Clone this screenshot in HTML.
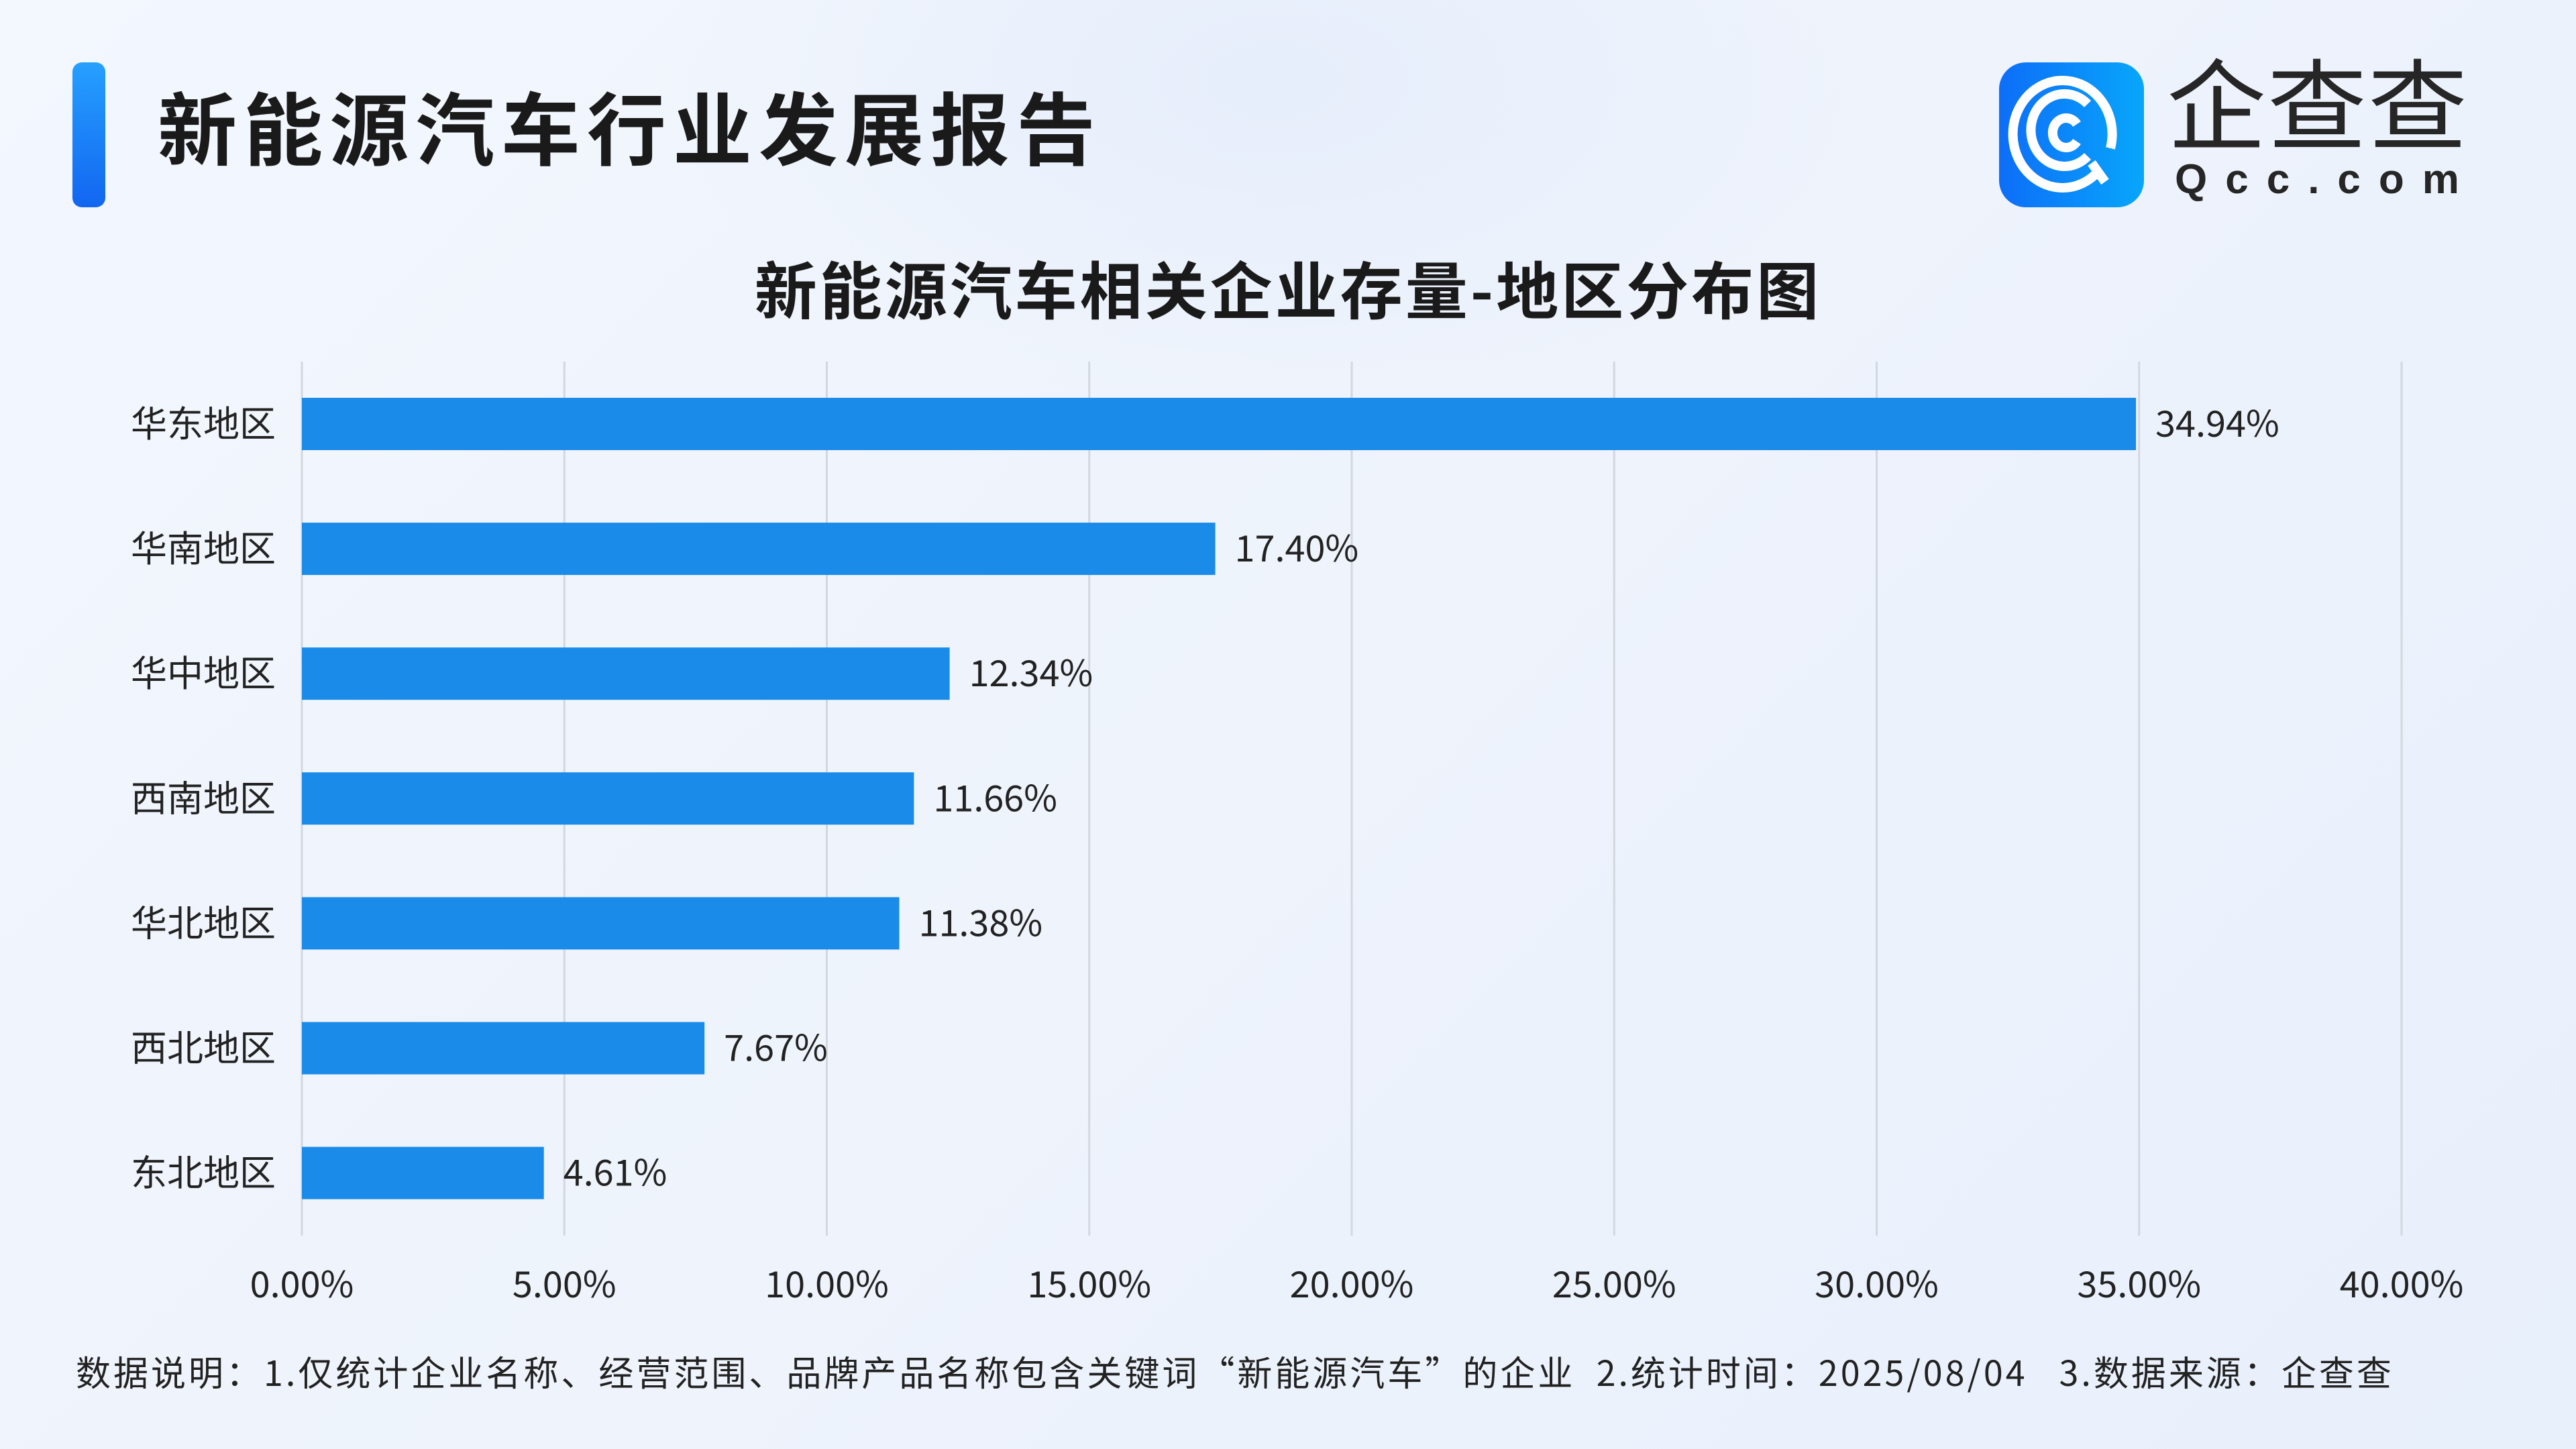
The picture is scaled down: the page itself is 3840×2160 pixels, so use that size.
<!DOCTYPE html>
<html><head><meta charset="utf-8">
<style>
html,body{margin:0;padding:0}
body{width:3840px;height:2160px;overflow:hidden;position:relative;font-family:"Noto Sans CJK SC","Liberation Sans",sans-serif;
background:radial-gradient(ellipse 900px 500px at 1900px 120px,#e6eefb 0%,rgba(230,238,251,0) 100%),linear-gradient(135deg,#f3f7fe 0%,#eef3fc 50%,#e8f0fc 100%);}
.abs{position:absolute}
</style></head><body>
<div class="abs" style="left:108px;top:93px;width:49px;height:216px;border-radius:14px;background:linear-gradient(180deg,#26a0ff,#1266f0)"></div>
<div class="abs" style="left:235px;top:106px;font-size:118px;font-weight:bold;color:#1a1a1a;letter-spacing:10px;line-height:160px">新能源汽车行业发展报告</div>
<div class="abs" style="left:2980px;top:93px;width:216px;height:216px">
<svg width="216" height="216" viewBox="0 0 216 216"><defs><linearGradient id="lg" x1="0" x2="1"><stop offset="0" stop-color="#0d6ef8"/><stop offset="1" stop-color="#08a6fb"/></linearGradient></defs>
<rect width="216" height="216" rx="40" fill="url(#lg)"/>
<g fill="none" stroke="#fff" stroke-width="14" stroke-linecap="butt">
<path d="M150 160 A74 80 0 1 1 166 128"/>
<path d="M132 62 A50 54 0 1 0 132 140"/>
<path d="M116 92 A20 22 0 1 0 116 118"/>
<path d="M138 150 L158 178"/></g></svg></div>
<div class="abs" style="left:3230px;top:72px;font-size:148px;color:#262626;line-height:180px;letter-spacing:2px;font-family:'Liberation Sans','Noto Sans CJK SC',sans-serif">企查查</div>
<div class="abs" style="left:3242px;top:232px;font-size:62px;color:#262626;letter-spacing:27px;font-weight:bold;font-family:'Liberation Sans',sans-serif">Qcc.com</div>
<div class="abs" style="left:0;width:3840px;top:358px;text-align:center;font-size:93px;font-weight:bold;color:#1a1a1a;line-height:140px;letter-spacing:4px">新能源汽车相关企业存量-地区分布图</div>
<svg class="abs" style="left:0;top:0" width="3840" height="2160" id="chart" font-family="Noto Sans CJK SC, Liberation Sans, sans-serif"></svg>
<div class="abs" style="left:113px;top:2004px;font-size:52px;color:#222;line-height:80px;white-space:nowrap;letter-spacing:4px">数据说明：1.仅统计企业名称、经营范围、品牌产品名称包含关键词“新能源汽车”的企业&nbsp;&nbsp;2.统计时间：2025/08/04&nbsp;&nbsp;&nbsp;3.数据来源：企查查</div>
<script>
const categories=["华东地区","华南地区","华中地区","西南地区","华北地区","西北地区","东北地区"];
const values=[34.94,17.40,12.34,11.66,11.38,7.67,4.61];
const ticks=[0,5,10,15,20,25,30,35,40];
const svg=document.getElementById('chart');
const NS='http://www.w3.org/2000/svg';
const x0=450,x1=3580,xmax=40,yTop=539,yBot=1842,firstC=632,step=186.1,bh=78;
function xs(v){return x0+(v/xmax)*(x1-x0);}
function yc(i){return firstC+i*step;}
function mk(t,a){const e=document.createElementNS(NS,t);for(const k in a)e.setAttribute(k,a[k]);svg.appendChild(e);return e;}
ticks.forEach((t,i)=>{
 const l=mk('line',{x1:xs(t),x2:xs(t),y1:yTop,y2:yBot,stroke:'#d3d7de','stroke-width':3});
 
 
 const tx=mk('text',{x:xs(t),y:1934,'text-anchor':'middle','font-size':54,fill:'#222'});
 tx.textContent=t.toFixed(2)+'%';
 
 
});
categories.forEach((c,i)=>{
 const r=mk('rect',{x:x0,y:yc(i)-bh/2,width:xs(values[i])-x0,height:bh,fill:'#1a8be9'});
 
 
 const lb=mk('text',{x:411,y:yc(i)+19,'text-anchor':'end','font-size':54,fill:'#222'});
 lb.textContent=c;
 
 
 const vl=mk('text',{x:xs(values[i])+29,y:yc(i)+19,'font-size':54,fill:'#222'});
 vl.textContent=values[i].toFixed(2)+'%';
 
 
});
</script>
</body></html>
